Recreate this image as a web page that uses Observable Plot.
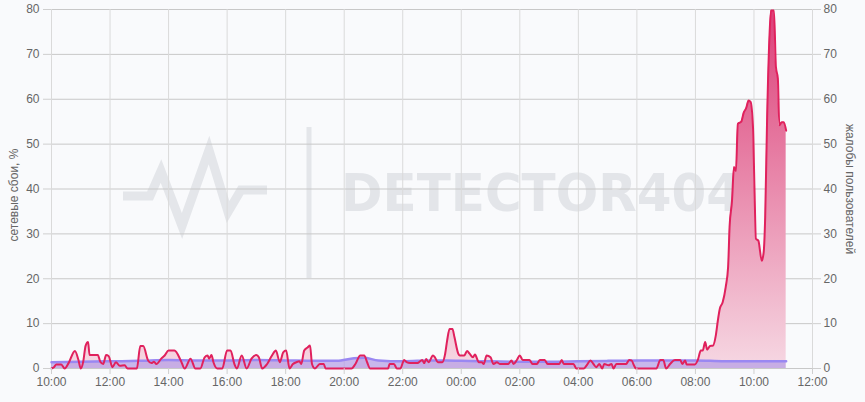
<!DOCTYPE html>
<html>
<head>
<meta charset="utf-8">
<script src="https://cdn.jsdelivr.net/npm/d3@7"></script>
<script src="https://cdn.jsdelivr.net/npm/@observablehq/plot@0.6"></script>
<style>
  html, body { margin: 0; padding: 0; background: #f9fafc; }
  #chart { width: 865px; height: 402px; }
</style>
</head>
<body>
<div id="chart"></div>
<script>
// ---- data ----
const leftLabel = "сетевые сбои, %";
const rightLabel = "жалобы пользователей";
const watermarkText = "DETECTOR404";
const yTicks = [0, 10, 20, 30, 40, 50, 60, 70, 80];
const xStart = "10:00";
const xEnd = "12:00";

const redTimes = ["10:00","10:05","10:10","10:20","10:27","10:35","10:48","10:55","11:00","11:05","11:10","11:15","11:18","11:25","11:35","11:40","11:46","11:52","11:57","12:05","12:12","12:20","12:30","12:36","12:55","13:02","13:08","13:18","13:25","13:30","13:35","13:45","13:52","14:00","14:12","14:25","14:33","14:45","14:55","15:05","15:14","15:20","15:23","15:28","15:32","15:40","15:50","16:00","16:07","16:15","16:20","16:30","16:40","16:50","17:00","17:05","17:12","17:22","17:32","17:40","17:48","17:55","18:01","18:08","18:15","18:22","18:28","18:32","18:38","18:45","18:50","18:54","19:00","19:10","19:18","19:22","20:15","20:23","20:33","20:41","20:47","20:53","21:30","21:33","21:42","21:48","21:55","22:03","22:08","22:15","22:30","22:40","22:44","22:48","22:53","23:02","23:06","23:12","23:21","23:27","23:31","23:36","23:42","23:46","23:54","23:57","00:06","00:12","00:17","00:24","00:28","00:36","00:42","00:46","00:52","01:00","01:06","01:13","01:19","01:36","01:43","01:47","01:54","02:00","02:06","02:20","02:26","02:35","02:41","02:51","02:57","03:21","03:26","03:30","03:50","03:56","04:11","04:17","04:25","04:31","04:37","04:43","04:49","04:53","05:02","05:08","05:12","05:18","05:38","05:44","05:49","05:54","05:58","06:40","06:48","06:54","07:00","07:08","07:18","07:29","07:33","07:39","07:42","07:59","08:05","08:11","08:15","08:20","08:24","08:30","08:36","08:42","08:46","08:50","08:56","09:02","09:07","09:10","09:15","09:19","09:23","09:27","09:34","09:39","09:44","09:49","09:53","09:58","10:01","10:04","10:09","10:16","10:20","10:23","10:27","10:32","10:35","10:41","10:45","10:49","10:52","10:57","11:01","11:06"];
const redValues = [0,0.3,0.9,0.9,0,1.2,3.9,2.0,0,1.5,5.1,5.9,3.0,3.0,3.0,1.5,1.0,3.0,2.8,0.3,1.4,0.6,0.7,0,0,5.0,5.0,1.8,1.2,1.5,1.0,2.2,2.9,4.0,4.0,1.8,0,2.2,0,0,2.5,2.9,2.2,3.0,1.4,0,0,4.0,4.0,1.0,0,2.9,0,2.2,3.0,2.5,0,1.0,2.9,4.0,1.4,3.6,4.0,0,1.0,1.4,1.6,1.0,4.0,4.7,5.1,1.0,0,1.0,1.0,0,0,1.0,2.9,2.9,1.4,0,0,1.0,1.0,0,0,1.9,1.4,1.2,1.2,1.9,1.2,2.1,1.4,2.9,2.5,1.4,1.4,3.3,6.2,8.8,8.8,7.0,3.3,2.9,2.9,3.9,3.3,2.5,3.1,1.4,1.4,1.0,2.9,2.5,1.0,1.4,1.0,1.0,1.8,1.0,1.9,2.9,1.9,1.9,1.0,1.0,1.9,1.9,1.0,1.0,1.9,1.0,1.0,0,0,0.7,1.8,1.0,0.3,1.0,0,1.0,0.7,1.0,0,1.0,1.0,1.9,1.8,0.7,0,0,1.9,1.9,0,1.0,1.9,1.9,1.0,1.8,0.9,0.9,1.9,4.0,4.0,5.9,4.2,5.0,5.1,7.5,10.7,13.3,14.8,18.1,22.6,31.5,37.4,44.9,44.0,54.5,55.0,57.0,58.0,59.7,59.4,53.8,40.4,28.9,28.5,24.0,26.0,33.7,56.0,74.6,79.8,79.8,67.2,64.6,54.2,54.9,54.9,53.0];

const purpleTimes = ["10:00","11:00","12:00","13:00","14:00","15:00","16:00","17:00","18:00","19:00","19:45","20:20","20:40","21:10","22:00","23:00","23:30","00:00","01:00","02:00","03:00","04:00","05:00","06:00","07:00","08:00","09:00","10:00","11:06"];
const purpleValues = [1.4,1.5,1.6,1.7,1.9,1.8,1.8,1.9,1.8,1.7,1.7,2.3,2.4,1.8,1.6,1.8,1.8,1.7,1.6,1.5,1.5,1.6,1.7,1.8,1.8,1.8,1.6,1.6,1.6];

// ---- helpers ----
const day0 = Date.UTC(2024, 0, 1);
function toDates(times) {
  let prev = -1, dayOff = 0;
  return times.map(s => {
    const [h, m] = s.split(":").map(Number);
    const mins = h * 60 + m;
    if (mins < prev) dayOff += 1;
    prev = mins;
    return new Date(day0 + (dayOff * 1440 + mins) * 60000);
  });
}
function series(times, values) {
  const d = toDates(times);
  return d.map((t, i) => ({t, v: values[i]}));
}
const red = series(redTimes, redValues);
const purple = series(purpleTimes, purpleValues);
const [sh, sm] = xStart.split(":").map(Number);
const [eh, em] = xEnd.split(":").map(Number);
const domainX = [new Date(day0 + (sh * 60 + sm) * 60000), new Date(day0 + (1440 + eh * 60 + em) * 60000)];

const W = 865, H = 402, mL = 51, mR = 53, mT = 9, mB = 34;

const watermark = () => {
  const g = d3.create("svg:g");
  g.append("polyline")
    .attr("points", "123,196 150,196 161,171 182,226 209,150 228,212 241,190 267,190")
    .attr("fill", "none").attr("stroke", "#e4e6ea").attr("stroke-width", 9)
    .attr("stroke-linejoin", "miter").attr("stroke-miterlimit", 10);
  g.append("rect").attr("x", 306.5).attr("y", 127).attr("width", 5).attr("height", 151).attr("fill", "#e4e6ea");
  g.append("text").attr("x", 341).attr("y", 211)
    .attr("text-anchor", "start")
    .attr("font-family", "DejaVu Sans, sans-serif").attr("font-weight", "bold")
    .attr("font-size", 52).attr("fill", "#e3e5e9")
    .attr("textLength", 400).attr("lengthAdjust", "spacingAndGlyphs")
    .text(watermarkText);
  return g.node();
};

const defs = () => {
  const d = d3.create("svg:defs");
  const lg = d.append("linearGradient").attr("id", "redGrad")
    .attr("gradientUnits", "userSpaceOnUse")
    .attr("x1", 0).attr("x2", 0).attr("y1", mT).attr("y2", H - mB);
  lg.append("stop").attr("offset", "0%").attr("stop-color", "#dc3f78");
  lg.append("stop").attr("offset", "50%").attr("stop-color", "#e98bad");
  lg.append("stop").attr("offset", "100%").attr("stop-color", "#f6d8e3");
  return d.node();
};

const chart = Plot.plot({
  width: W, height: H,
  marginLeft: mL, marginRight: mR, marginTop: mT, marginBottom: mB,
  style: {background: "transparent", fontFamily: "Liberation Sans, Arial, sans-serif", fontSize: "12px", color: "#666"},
  x: {type: "utc", domain: domainX},
  y: {domain: [0, 80]},
  marks: [
    watermark,
    defs,
    Plot.gridY(yTicks, {stroke: "#c8c8c8", strokeOpacity: 1}),
    Plot.gridX({ticks: d3.utcHour.every(2), stroke: "#dadada", strokeOpacity: 1}),
    Plot.areaY(red, {x: "t", y: "v", fill: "url(#redGrad)", curve: "monotone-x"}),
    Plot.areaY(purple, {x: "t", y: "v", fill: "#b49be6", fillOpacity: 0.7, curve: "monotone-x"}),
    Plot.lineY(purple, {x: "t", y: "v", stroke: "#9a88f2", strokeWidth: 2.5, curve: "monotone-x"}),
    Plot.lineY(red, {x: "t", y: "v", stroke: "#e0215d", strokeWidth: 2, curve: "monotone-x"}),
    Plot.axisX({ticks: d3.utcHour.every(2), tickFormat: d3.utcFormat("%H:%M"), tickSize: 6, tickPadding: 3, label: null, stroke: "#cfcfcf", fill: "#666", fontSize: 12}),
    Plot.axisY(yTicks, {anchor: "left", tickSize: 8, tickPadding: 4, label: null, stroke: "#cfcfcf", fill: "#666", fontSize: 12}),
    Plot.axisY(yTicks, {anchor: "right", tickSize: 8, tickPadding: 3, label: null, stroke: "#cfcfcf", fill: "#666", fontSize: 12}),
    Plot.text([leftLabel], {frameAnchor: "left", textAnchor: "middle", dx: -37, dy: 6, rotate: -90, fill: "#666", fontSize: 12}),
    Plot.text([rightLabel], {frameAnchor: "right", textAnchor: "middle", dx: 37, rotate: 90, fill: "#666", fontSize: 12})
  ]
});
document.getElementById("chart").appendChild(chart);
</script>
</body>
</html>
